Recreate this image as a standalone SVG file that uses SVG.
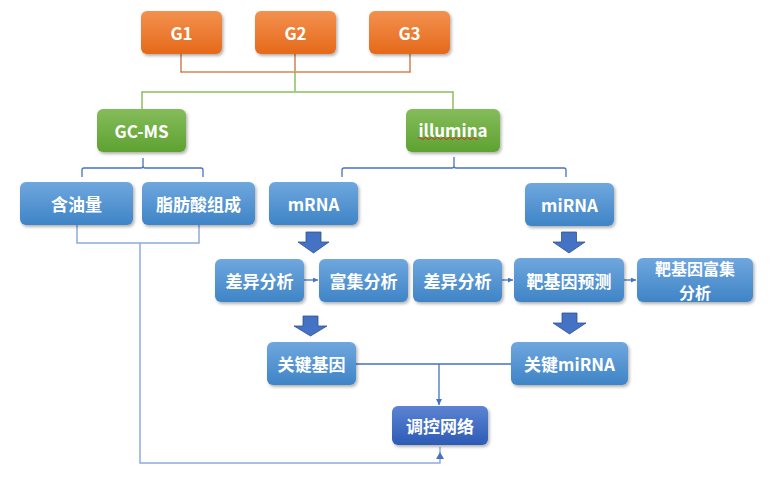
<svg xmlns="http://www.w3.org/2000/svg" width="770" height="482" viewBox="0 0 770 482">
<defs>
<linearGradient id="gO" x1="0" y1="0" x2="0" y2="1"><stop offset="0" stop-color="#f3914f"/><stop offset="1" stop-color="#e5691a"/></linearGradient>
<linearGradient id="gG" x1="0" y1="0" x2="0" y2="1"><stop offset="0" stop-color="#85bc5b"/><stop offset="1" stop-color="#5ea231"/></linearGradient>
<linearGradient id="gB" x1="0" y1="0" x2="0" y2="1"><stop offset="0" stop-color="#6fa7de"/><stop offset="1" stop-color="#3f84c6"/></linearGradient>
<linearGradient id="gD" x1="0" y1="0" x2="0" y2="1"><stop offset="0" stop-color="#5c83d3"/><stop offset="1" stop-color="#2d5bb5"/></linearGradient>
<filter id="sh" x="-10%" y="-10%" width="125%" height="135%"><feDropShadow dx="1.5" dy="2" stdDeviation="1.5" flood-color="#000" flood-opacity="0.3"/></filter>
<marker id="ah" viewBox="0 0 10 10" refX="10" refY="5" markerWidth="5" markerHeight="5" orient="auto" markerUnits="userSpaceOnUse"><path d="M0,0 L10,5 L0,10 Z" fill="#4472c4"/></marker>
<marker id="ah2" viewBox="0 0 10 10" refX="10" refY="5" markerWidth="6" markerHeight="6" orient="auto" markerUnits="userSpaceOnUse"><path d="M0,0 L10,5 L0,10 Z" fill="#4472c4"/></marker>
</defs>
<style>
.t{font-family:"Noto Sans CJK SC","Noto Sans",sans-serif;font-weight:bold;font-size:17px;fill:#fff;text-anchor:middle;dominant-baseline:central}
.t2{font-size:16px}
.o{fill:url(#gO);filter:url(#sh)}
.g{fill:url(#gG);filter:url(#sh)}
.b{fill:url(#gB);filter:url(#sh)}
.d{fill:url(#gD);filter:url(#sh)}
.ln{fill:none;stroke:#4472c4;stroke-width:1.3}
.blk{fill:#4472c4;stroke:#2f528f;stroke-width:0.8}
</style>
<rect width="770" height="482" fill="#fff"/>
<g id="connectors">
<path d="M181,54 V72 H410 V54 M295,54 V72" fill="none" stroke="#c8703c" stroke-width="1.3"/>
<path d="M182,72 H409" fill="none" stroke="#e8a87e" stroke-width="1.3"/>
<path d="M295,72 V92 M142,109 V92 H453 V109" fill="none" stroke="#7ab648" stroke-width="1.3"/>
<path d="M143,92 H452" fill="none" stroke="#a9d18e" stroke-width="1.3"/>
<path class="ln" d="M82,177 V170 Q82,168 84,168 H141 Q143,168 143,166 V158 M143,166 Q143,168 145,168 H201 Q203,168 203,170 V177"/>
<path class="ln" d="M342,177 V170 Q342,168 344,168 H452 Q454,168 454,166 V157 M454,166 Q454,168 456,168 H564 Q566,168 566,170 V177"/>
<path d="M77,225 V243 H199 V225 M140,243 V463 H440 V447" fill="none" stroke="#8eaadb" stroke-width="1.5"/>
<path d="M440,452 L436,459 H444 Z" fill="#4472c4"/>
<path class="ln" d="M304,280 H318" marker-end="url(#ah)"/>
<path class="ln" d="M502,280 H513" marker-end="url(#ah)"/>
<path class="ln" d="M624,280 H636" marker-end="url(#ah)"/>
<path class="ln" d="M356,364 H511 M439,364 V405" marker-end="url(#ah2)"/>
<path class="blk" d="M306,232 H321 V242 H329 L313.5,253 L298,242 H306 Z"/>
<path class="blk" d="M561.5,232 H576.5 V242 H585 L569,253 L553,242 H561.5 Z"/>
<path class="blk" d="M303,316 H318 V326 H327 L310.5,336 L294,326 H303 Z"/>
<path class="blk" d="M562,313 H577 V323 H586 L569.5,334 L553,323 H562 Z"/>
</g>
<g id="G1"><rect class="o" x="141" y="11" width="81" height="43" rx="6"/><text class="t" x="181.5" y="32.5">G1</text></g>
<g id="G2"><rect class="o" x="255" y="11" width="81" height="43" rx="6"/><text class="t" x="295.5" y="32.5">G2</text></g>
<g id="G3"><rect class="o" x="369" y="11" width="81" height="43" rx="6"/><text class="t" x="409.5" y="32.5">G3</text></g>
<g id="GCMS"><rect class="g" x="97" y="109" width="89" height="43" rx="6"/><text class="t" x="141.5" y="130.5">GC-MS</text></g>
<g id="illumina"><rect class="g" x="406" y="109" width="94" height="43" rx="6"/><text class="t" x="453" y="129.5">illumina</text><path d="M418,138.5 q1.5,-2 3,0 t3,0 t3,0 t3,0 t3,0 t3,0 t3,0 t3,0 t3,0 t3,0 t3,0 t3,0 t3,0 t3,0 t3,0 t3,0 t3,0 t3,0 t3,0 t3,0" fill="none" stroke="#e02020" stroke-width="0.9"/></g>
<g id="hanyouliang"><rect class="b" x="20" y="182" width="113" height="43" rx="6"/><text class="t" x="76.5" y="203.5">含油量</text></g>
<g id="zhifangsuan"><rect class="b" x="142" y="182" width="113" height="43" rx="6"/><text class="t" x="198.5" y="203.5">脂肪酸组成</text></g>
<g id="mRNA"><rect class="b" x="269" y="182" width="89" height="43" rx="6"/><text class="t" x="313.5" y="203.5">mRNA</text></g>
<g id="miRNA"><rect class="b" x="525" y="183" width="89" height="43" rx="6"/><text class="t" x="569.5" y="204.5">miRNA</text></g>
<g id="chayi1"><rect class="b" x="215" y="259" width="89" height="43" rx="6"/><text class="t" x="259.5" y="280.5">差异分析</text></g>
<g id="fuji"><rect class="b" x="319" y="259" width="89" height="43" rx="6"/><text class="t" x="363.5" y="280.5">富集分析</text></g>
<g id="chayi2"><rect class="b" x="413" y="259" width="89" height="43" rx="6"/><text class="t" x="457.5" y="280.5">差异分析</text></g>
<g id="bajiyin"><rect class="b" x="514" y="258" width="110" height="44" rx="6"/><text class="t" x="569" y="280">靶基因预测</text></g>
<g id="bajiyinfuji"><rect class="b" x="637" y="258" width="116" height="44" rx="6"/><text class="t t2"><tspan x="695" y="268">靶基因富集</tspan><tspan x="695" y="291.5">分析</tspan></text></g>
<g id="guanjianjiyin"><rect class="b" x="267" y="342" width="89" height="43" rx="6"/><text class="t" x="311.5" y="363.5">关键基因</text></g>
<g id="guanjianmiRNA"><rect class="b" x="511" y="342" width="117" height="43" rx="6"/><text class="t" x="569.5" y="363.5">关键miRNA</text></g>
<g id="tiaokong"><rect class="d" x="392" y="406" width="96" height="39" rx="6"/><text class="t" x="440" y="425.5">调控网络</text></g>
</svg>
